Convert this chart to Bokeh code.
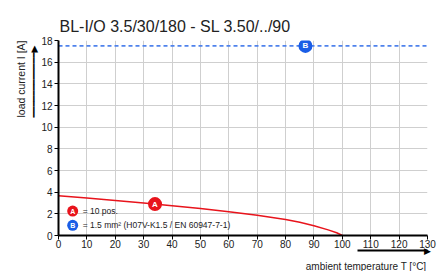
from bokeh.plotting import figure
from bokeh.models import LinearAxis, Range1d, FixedTicker, Title
from bokeh.core.properties import value
from bokeh.embed import file_html
from bokeh.resources import INLINE

title_text = "BL-I/O 3.5/30/180 - SL 3.50/../90"
x_label = "ambient temperature T [°C]"
y_label = "load current I [A]"
x_ticks = [0, 10, 20, 30, 40, 50, 60, 70, 80, 90, 100, 110, 120, 130]
y_ticks = [0, 2, 4, 6, 8, 10, 12, 14, 16, 18]

# Curve A (10 pos.)
temp_a = [0, 10, 20, 30, 40, 50, 60, 70, 80, 85, 90, 95, 98, 100]
curr_a = [3.68, 3.46, 3.24, 3.0, 2.75, 2.5, 2.2, 1.87, 1.48, 1.22, 0.9, 0.52, 0.25, 0.0]
# Curve B (1.5 mm²)
temp_b = [0, 130]
curr_b = [17.5, 17.5]
# Marker positions
marker_a = (34, 2.9)
marker_b = (87, 17.5)

legend_a = "= 10 pos."
legend_b = "= 1.5 mm² (H07V-K1.5 / EN 60947-7-1)"

RED = "#e8141c"
BLUE = "#1a5de6"
BLUE_LINE = "#4f82ec"
FONT = "Liberation Sans"
TXT = "#222222"
ARROW_Y = "\u2501" * 12 + "\u25B6"

p = figure(width=441, height=271, output_backend="svg", toolbar_location=None,
           x_range=Range1d(0, 130), y_range=Range1d(0, 18),
           min_border_left=58, min_border_right=14, min_border_top=40, min_border_bottom=34)
p.title = Title(text=title_text, align="left", offset=1, standoff=11,
                text_font=FONT, text_font_size="16px", text_font_style="normal",
                text_color=TXT)
p.outline_line_color = None
p.background_fill_color = "white"
p.border_fill_color = "white"

for ax in (p.xaxis[0], p.yaxis[0]):
    ax.axis_line_width = 2
    ax.axis_line_color = "black"
    ax.major_tick_line_color = "black"
    ax.major_tick_line_width = 1
    ax.major_tick_in = 0
    ax.major_tick_out = 4
    ax.minor_tick_line_color = None
    ax.major_label_text_font = FONT
    ax.major_label_text_font_size = "10px"
    ax.major_label_text_color = TXT
p.xaxis[0].major_label_standoff = 0
p.yaxis[0].major_label_standoff = 2
p.xaxis[0].ticker = FixedTicker(ticks=x_ticks)
p.yaxis[0].ticker = FixedTicker(ticks=y_ticks)

p.xgrid.ticker = FixedTicker(ticks=x_ticks)
p.ygrid.ticker = FixedTicker(ticks=y_ticks)
for g in (p.xgrid[0], p.ygrid[0]):
    g.grid_line_color = "#cfcfcf"
    g.grid_line_width = 1

# Horizontal direction arrow: a bounded second bottom axis, its single label is the head
x_arrow = LinearAxis(bounds=(105.2, 130), ticker=FixedTicker(ticks=[130]),
                     major_label_overrides={130: "\u25B6"})
x_arrow.axis_line_color = "black"
x_arrow.axis_line_width = 2
x_arrow.major_tick_line_color = None
x_arrow.major_tick_in = 0
x_arrow.major_tick_out = 0
x_arrow.minor_tick_line_color = None
x_arrow.major_label_text_font = "DejaVu Sans"
x_arrow.major_label_text_font_size = "9px"
x_arrow.major_label_text_color = "black"
x_arrow.major_label_standoff = -5
p.add_layout(x_arrow, "below")

# Axis titles (and vertical arrow) as side-panel titles
def side_title(text, side, offset, standoff, font=FONT, size="10.5px"):
    p.add_layout(Title(text=text, align="right", offset=offset, standoff=standoff,
                       text_font=font, text_font_size=size, text_font_style="normal",
                       text_color=TXT if font == FONT else "black"), side)

side_title(x_label, "below", 1, 0, size="10px")
side_title(ARROW_Y, "left", 5, 0, font="DejaVu Sans", size="9px")
side_title(y_label, "left", 0, 0)

# Lines
p.line(temp_b, curr_b, line_color=BLUE_LINE, line_width=1.6, line_dash="4 3")
p.line(temp_a, curr_a, line_color=RED, line_width=1.5)

# Curve markers
p.scatter([marker_a[0]], [marker_a[1]], size=14, marker="circle", fill_color=RED, line_color=None)
p.scatter([marker_b[0]], [marker_b[1]], size=14, marker="circle", fill_color=BLUE, line_color=None)
p.text([marker_a[0], marker_b[0]], [marker_a[1], marker_b[1]], text=["A", "B"],
       text_color="white", text_font=value(FONT),
       text_font_size="8px", text_font_style="bold", text_align="center", text_baseline="middle")

# Legend (inside plot, lower left)
lx = 5.0
ly = [2.26, 0.94]
p.scatter([lx, lx], ly, size=11, marker="circle", fill_color=[RED, BLUE], line_color=None)
p.text([lx, lx], ly, text=["A", "B"], text_color="white", text_font=value(FONT),
       text_font_size="7px", text_font_style="bold", text_align="center", text_baseline="middle")
p.text([8.5, 8.5], ly, text=[legend_a, legend_b], text_color=TXT, text_font=value(FONT),
       text_font_size="8.5px", text_align="left", text_baseline="middle")

open("out.html", "w").write(file_html(p, INLINE))
